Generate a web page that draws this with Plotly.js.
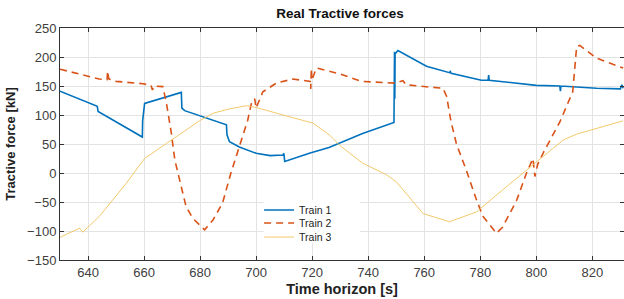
<!DOCTYPE html>
<html>
<head>
<meta charset="utf-8">
<script src="https://cdn.plot.ly/plotly-3.0.1.min.js"></script>
<style>html,body{margin:0;padding:0;background:#fff;}#chart{width:624px;height:299px;}</style>
</head>
<body>
<div id="chart"></div>
<script>
const seriesNames = ["Train 1", "Train 2", "Train 3"];

const train1Time = [630, 638, 642.7, 643.3, 643.6, 644.7, 659.4, 659.5, 659.7, 660.2, 673.3, 673.5, 674.5, 689.4, 689.6, 690.5, 694, 700, 705, 709.6, 709.9, 710.2, 719, 726, 738, 749.2, 749.4, 749.5, 749.6, 750.6, 760.8, 769, 769.3, 769.6, 780.4, 782.8, 783, 783.2, 800, 808.4, 808.6, 808.8, 821.5, 830, 830.5, 831];
const train1Force = [141, 126, 117, 115, 106, 103, 62, 90, 97, 120, 139, 112, 107.5, 83, 66, 54, 45, 34, 30, 31, 34, 20, 34, 44, 68, 87, 209, 128, 205, 211, 184, 173, 175, 172, 160, 160, 169, 160, 151, 150, 141, 150, 146, 145, 152, 146];

const train2Time = [630, 638, 644, 646.8, 647, 647.3, 647.5, 650, 659.6, 662.5, 663, 663.5, 666.7, 668, 669.7, 671, 672.7, 675, 677.4, 680.4, 681.6, 684.6, 688, 691, 694, 697, 698.5, 699.5, 700, 702.4, 707.2, 713, 719.3, 719.5, 719.7, 719.9, 721.5, 729.8, 737.6, 749.5, 752.4, 753.6, 766.7, 768, 769.5, 771.5, 775, 778.7, 781, 784.6, 785.8, 788, 793, 796.5, 798, 798.8, 799.5, 800.5, 802.4, 808.4, 813, 814.4, 815.5, 821.5, 831];
const train2Force = [179, 169, 162, 161, 176, 165, 162, 158, 154, 151, 143, 150, 149, 120, 70, 22, -12, -58, -78, -93, -98, -81, -52, 0, 45, 91, 124, 128, 112, 140, 155, 162, 158, 145, 180, 160, 181, 171, 158, 155, 159, 152, 146, 132, 90, 50, 5, -47, -75, -98, -104, -93, -47, 0, 15, 25, -6, 15, 34, 88, 140, 218, 220, 198, 181];

const train3Time = [630, 637, 638.1, 644, 653.6, 660.2, 668, 673.9, 679.8, 684.6, 690, 696.5, 700, 709.6, 720.3, 726.3, 730, 738, 746.5, 750, 759.6, 769, 778.7, 788, 800, 809.6, 814.4, 822, 831];
const train3Force = [-111, -95, -102, -75, -18, 25, 51, 70, 90, 103, 110, 116, 113, 100, 86, 65, 47, 17, -3, -15, -70, -84, -67, -29, 19, 57, 67, 78, 90];

const xTicks = [640, 660, 680, 700, 720, 740, 760, 780, 800, 820];
const yTicks = [-150, -100, -50, 0, 50, 100, 150, 200, 250];

const traces = [
  {x: train1Time, y: train1Force, name: seriesNames[0], type: "scatter", mode: "lines", legend: "legend",
   line: {color: "#0072BD", width: 1.6}},
  {x: train2Time, y: train2Force, name: seriesNames[1], type: "scatter", mode: "lines", legend: "legend2",
   line: {color: "#D95319", width: 1.6, dash: "7px,5px"}},
  {x: train3Time, y: train3Force, name: seriesNames[2], type: "scatter", mode: "lines", legend: "legend3",
   line: {color: "#F0C35A", width: 0.9}}
];

const fam = "Liberation Sans, Arial, sans-serif";
const axisFont = {family: fam, size: 13, color: "#404040"};
const legFont = {family: fam, size: 10.5, color: "#222"};
function leg(y) {
  return {x: 0.353, xanchor: "left", y: y, yanchor: "middle", bgcolor: "rgba(255,255,255,0)", borderwidth: 0,
          font: legFont, itemwidth: 30};
}

const layout = {
  width: 624, height: 299,
  margin: {l: 60, r: 0, t: 28, b: 39},
  paper_bgcolor: "#fff", plot_bgcolor: "#fff",
  title: {text: "<b>Real Tractive forces</b>", x: 0.545, xanchor: "center", y: 0.957, yanchor: "middle",
          font: {family: fam, size: 13.5, color: "#111"}},
  showlegend: true,
  legend: leg(0.2155),
  legend2: leg(0.1595),
  legend3: leg(0.099),
  shapes: [{type: "rect", xref: "paper", yref: "paper", x0: 0.361, x1: 0.532, y0: 0.073, y1: 0.258,
            fillcolor: "#fff", line: {width: 0}, layer: "above"}],
  xaxis: {range: [630, 831.3], tickvals: xTicks, ticks: "inside", ticklen: 4, tickcolor: "#333",
          showline: true, linecolor: "#333", linewidth: 1, mirror: "ticks",
          showgrid: true, gridcolor: "#e3e3e3", zeroline: false, tickfont: axisFont,
          title: {text: "<b>Time horizon [s]</b>", standoff: 5,
                  font: {family: fam, size: 14.5, color: "#222"}}},
  yaxis: {range: [-150, 250], tickvals: yTicks, ticks: "inside", ticklen: 4, tickcolor: "#333",
          showline: true, linecolor: "#333", linewidth: 1, mirror: "ticks",
          showgrid: true, gridcolor: "#e3e3e3", zeroline: false, tickfont: axisFont,
          title: {text: "<b>Tractive force [kN]</b>", standoff: 8,
                  font: {family: fam, size: 13, color: "#222"}}}
};

Plotly.newPlot("chart", traces, layout, {displayModeBar: false, staticPlot: true});
</script>
</body>
</html>
